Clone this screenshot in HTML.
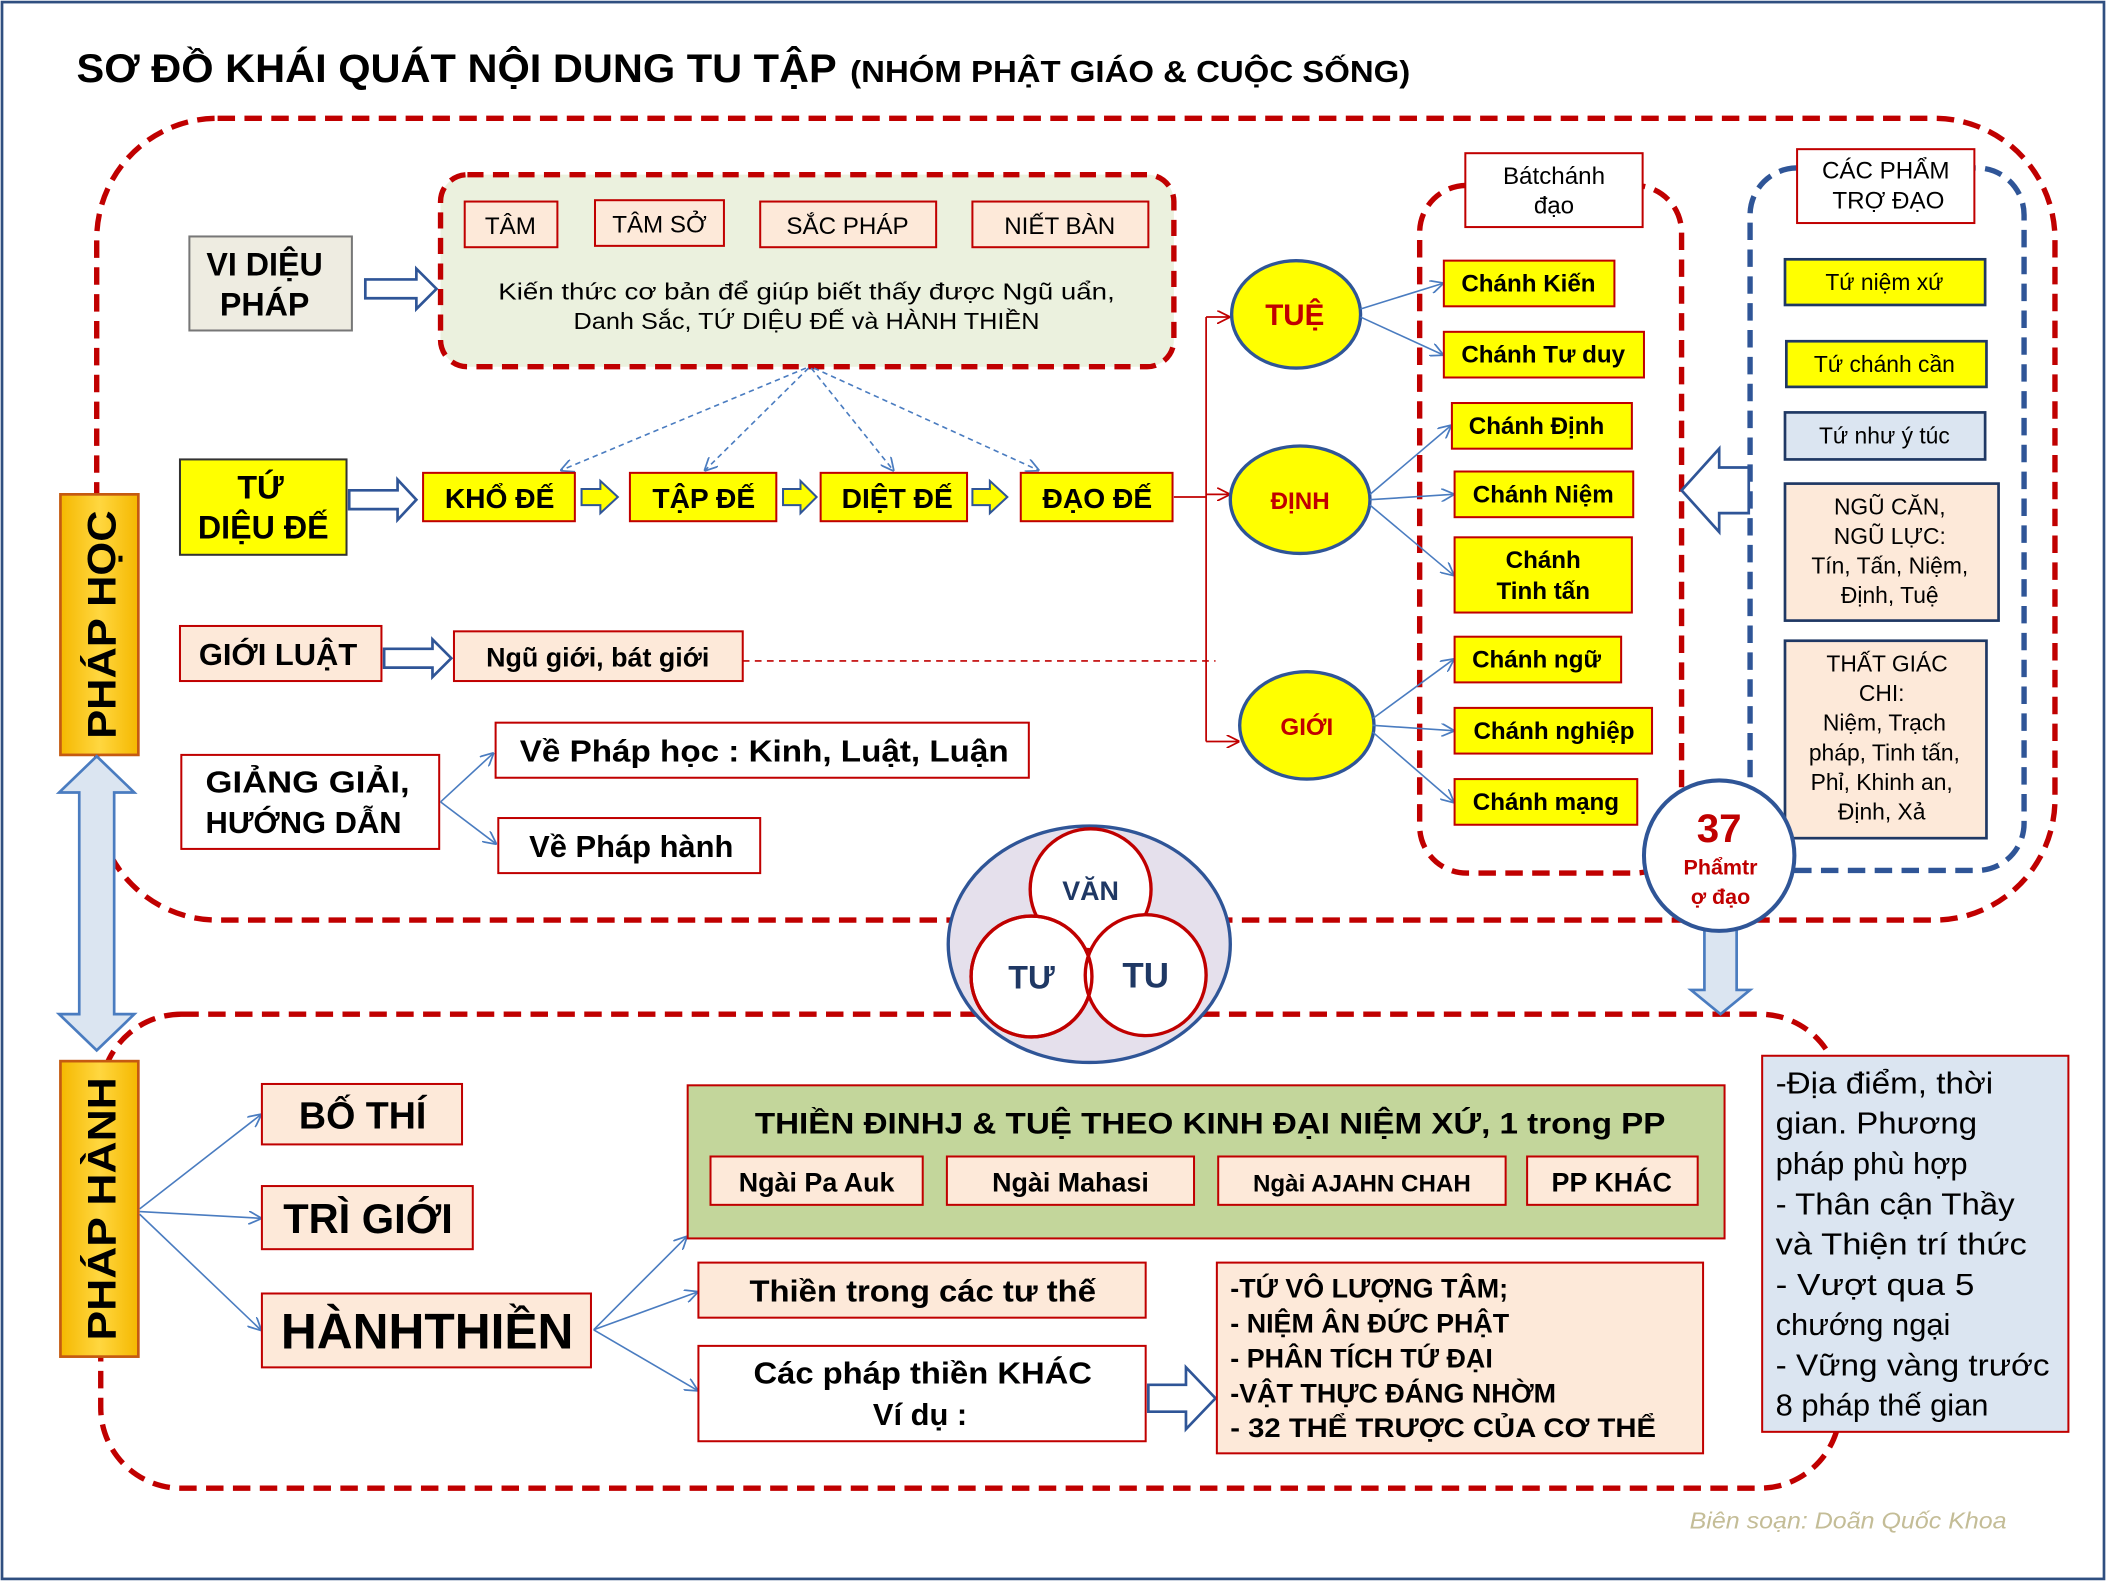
<!DOCTYPE html>
<html><head><meta charset="utf-8"><style>
html,body{margin:0;padding:0;background:#fff}
svg{display:block}
text{font-family:"Liberation Sans",Arial,sans-serif}
</style></head><body>
<svg width="2106" height="1581" viewBox="0 0 1568 1177" xmlns="http://www.w3.org/2000/svg">
<defs>
<marker id="ab" markerWidth="10" markerHeight="10" refX="9" refY="5" orient="auto" markerUnits="userSpaceOnUse"><path d="M0,0 L10,5 L0,10" fill="none" stroke="#4a7cc0" stroke-width="1.3"/></marker>
<marker id="ar" markerWidth="10" markerHeight="10" refX="9" refY="5" orient="auto" markerUnits="userSpaceOnUse"><path d="M0,0 L10,5 L0,10" fill="none" stroke="#c00000" stroke-width="1.3"/></marker>
<linearGradient id="yg" x1="0" y1="0" x2="1" y2="0"><stop offset="0" stop-color="#f5b800"/><stop offset="0.5" stop-color="#ffd740"/><stop offset="1" stop-color="#f5b800"/></linearGradient>
</defs>
<rect x="1.5" y="1.5" width="1565" height="1174" fill="#fff" stroke="#2f4f80" stroke-width="2"/>
<text x="57" y="61" font-size="30" font-weight="bold" textLength="566" lengthAdjust="spacingAndGlyphs">SƠ ĐỒ KHÁI QUÁT NỘI DUNG TU TẬP</text>
<text x="633" y="61" font-size="23" font-weight="bold" textLength="417" lengthAdjust="spacingAndGlyphs">(NHÓM PHẬT GIÁO &amp; CUỘC SỐNG)</text>

<rect x="72" y="88" width="1458" height="597" rx="90" fill="none" stroke="#c00000" stroke-width="4" stroke-dasharray="13,7"/>
<rect x="75" y="755" width="1295" height="353" rx="60" fill="none" stroke="#c00000" stroke-width="4" stroke-dasharray="13,7"/>

<rect x="45" y="368" width="58" height="194" fill="url(#yg)" stroke="#c55a11" stroke-width="2"/>
<text transform="translate(86,465) rotate(-90)" text-anchor="middle" font-size="30" font-weight="bold" textLength="170" lengthAdjust="spacingAndGlyphs">PHÁP HỌC</text>
<rect x="45" y="790" width="58" height="220" fill="url(#yg)" stroke="#c55a11" stroke-width="2"/>
<text transform="translate(86,900) rotate(-90)" text-anchor="middle" font-size="30" font-weight="bold" textLength="196" lengthAdjust="spacingAndGlyphs">PHÁP HÀNH</text>
<path d="M72,563 L100,590 L85,590 L85,755 L100,755 L72,782 L44,755 L59,755 L59,590 L44,590 Z" fill="#dbe5f1" stroke="#4a7cc0" stroke-width="2"/>

<rect x="141" y="176" width="121" height="70" fill="#eeece1" stroke="#777" stroke-width="1.5"/>
<text x="197" y="205" text-anchor="middle" font-size="24" font-weight="bold">VI DIỆU</text>
<text x="197" y="235" text-anchor="middle" font-size="24" font-weight="bold">PHÁP</text>
<path d="M272,208 L310,208 L310,200 L325,215 L310,230 L310,222 L272,222 Z" fill="#fff" stroke="#2f5597" stroke-width="2"/>
<rect x="328" y="130" width="546" height="143" rx="20" fill="#ebf1de" stroke="#c00000" stroke-width="4" stroke-dasharray="12,7"/>
<g fill="#fde9d9" stroke="#c00000" stroke-width="1.5">
<rect x="346" y="150" width="69" height="34"/><rect x="443" y="149" width="96" height="34"/><rect x="566" y="150" width="131" height="34"/><rect x="724" y="150" width="131" height="34"/></g>
<g font-size="18" text-anchor="middle"><text x="380" y="174">TÂM</text><text x="491" y="173">TÂM SỞ</text><text x="631" y="174">SẮC PHÁP</text><text x="789" y="174">NIẾT BÀN</text></g>
<text x="371" y="223" font-size="17" textLength="459" lengthAdjust="spacingAndGlyphs">Kiến thức cơ bản  để  giúp biết thấy được  Ngũ uẩn,</text>
<text x="427" y="245" font-size="17" textLength="347" lengthAdjust="spacingAndGlyphs">Danh Sắc, TỨ DIỆU ĐẾ và HÀNH THIỀN</text>

<g stroke="#4a7cc0" stroke-width="1.2" stroke-dasharray="4,3" fill="none">
<path d="M600,274 L418,350" marker-end="url(#ab)"/><path d="M602,274 L525,350" marker-end="url(#ab)"/><path d="M604,274 L665,350" marker-end="url(#ab)"/><path d="M606,274 L773,350" marker-end="url(#ab)"/></g>
<rect x="134" y="342" width="124" height="71" fill="#ffff00" stroke="#333" stroke-width="1.5"/>
<text x="194" y="371" text-anchor="middle" font-size="24" font-weight="bold">TỨ</text>
<text x="196" y="401" text-anchor="middle" font-size="24" font-weight="bold">DIỆU ĐẾ</text>
<path d="M260,365 L296,365 L296,357 L310,372 L296,387 L296,379 L260,379 Z" fill="#fff" stroke="#2f5597" stroke-width="2"/>
<g fill="#ffff00" stroke="#c00000" stroke-width="1.5">
<rect x="315" y="352" width="113" height="36"/><rect x="469" y="352" width="109" height="36"/><rect x="611" y="352" width="109" height="36"/><rect x="760" y="352" width="113" height="36"/></g>
<g fill="#ffff00" stroke="#2f5597" stroke-width="1.5">
<path d="M433,364 L447,364 L447,358 L460,370 L447,382 L447,376 L433,376 Z"/>
<path d="M583,364 L596,364 L596,358 L608,370 L596,382 L596,376 L583,376 Z"/>
<path d="M724,364 L737,364 L737,358 L750,370 L737,382 L737,376 L724,376 Z"/></g>
<g font-size="21" font-weight="bold" text-anchor="middle"><text x="372" y="378">KHỔ ĐẾ</text><text x="524" y="378">TẬP ĐẾ</text><text x="668" y="378">DIỆT ĐẾ</text><text x="817" y="378">ĐẠO ĐẾ</text></g>

<rect x="134" y="466" width="150" height="41" fill="#fde9d9" stroke="#c00000" stroke-width="1.5"/>
<text x="207" y="495" text-anchor="middle" font-size="23" font-weight="bold">GIỚI LUẬT</text>
<path d="M286,483 L322,483 L322,476 L336,490 L322,504 L322,497 L286,497 Z" fill="#fff" stroke="#2f5597" stroke-width="2"/>
<rect x="338" y="470" width="215" height="37" fill="#fde9d9" stroke="#c00000" stroke-width="1.5"/>
<text x="445" y="496" text-anchor="middle" font-size="20" font-weight="bold">Ngũ giới, bát giới</text>
<path d="M553,492 L905,492" stroke="#c00000" stroke-width="1.2" stroke-dasharray="5,4" fill="none"/>

<rect x="135" y="562" width="192" height="70" fill="#fff" stroke="#c00000" stroke-width="1.5"/>
<text x="229" y="590" text-anchor="middle" font-size="23" font-weight="bold" textLength="152" lengthAdjust="spacingAndGlyphs">GIẢNG  GIẢI,</text>
<text x="226" y="620" text-anchor="middle" font-size="23" font-weight="bold">HƯỚNG DẪN</text>
<g stroke="#4a7cc0" stroke-width="1.2" fill="none"><path d="M328,597 L367,561" marker-end="url(#ab)"/><path d="M328,597 L369,628" marker-end="url(#ab)"/></g>
<rect x="369" y="538" width="397" height="41" fill="#fff" stroke="#c00000" stroke-width="1.5"/>
<text x="569" y="567" text-anchor="middle" font-size="23" font-weight="bold" textLength="364" lengthAdjust="spacingAndGlyphs">Về Pháp học : Kinh, Luật, Luận</text>
<rect x="371" y="609" width="195" height="41" fill="#fff" stroke="#c00000" stroke-width="1.5"/>
<text x="470" y="638" text-anchor="middle" font-size="23" font-weight="bold">Về Pháp hành</text>

<g stroke="#c00000" stroke-width="1.3" fill="none">
<path d="M898,236 L898,552"/><path d="M874,370 L898,370"/>
<path d="M898,236 L915,236" marker-end="url(#ar)"/><path d="M898,368 L915,368" marker-end="url(#ar)"/><path d="M898,552 L922,552" marker-end="url(#ar)"/></g>

<g fill="#ffff00" stroke="#2f5597" stroke-width="2.5">
<ellipse cx="965" cy="234" rx="48" ry="40"/><ellipse cx="968" cy="372" rx="52" ry="40"/><ellipse cx="973" cy="540" rx="50" ry="40"/></g>
<text x="964" y="242" text-anchor="middle" font-size="22" font-weight="bold" fill="#c00000">TUỆ</text>
<text x="968" y="379" text-anchor="middle" font-size="18" font-weight="bold" fill="#c00000">ĐỊNH</text>
<text x="973" y="547" text-anchor="middle" font-size="18" font-weight="bold" fill="#c00000">GIỚI</text>

<rect x="1057" y="138" width="195" height="512" rx="35" fill="none" stroke="#c00000" stroke-width="4" stroke-dasharray="13,7"/>
<rect x="1091" y="114" width="132" height="55" fill="#fff" stroke="#c00000" stroke-width="1.5"/>
<text x="1157" y="137" text-anchor="middle" font-size="18">Bátchánh</text>
<text x="1157" y="159" text-anchor="middle" font-size="18">đạo</text>
<g stroke="#4a7cc0" stroke-width="1.2" fill="none">
<path d="M1013,230 L1074,211" marker-end="url(#ab)"/><path d="M1013,236 L1074,264" marker-end="url(#ab)"/>
<path d="M1020,368 L1080,317" marker-end="url(#ab)"/><path d="M1020,372 L1082,368" marker-end="url(#ab)"/><path d="M1020,376 L1082,428" marker-end="url(#ab)"/>
<path d="M1022,535 L1082,491" marker-end="url(#ab)"/><path d="M1022,540 L1082,544" marker-end="url(#ab)"/><path d="M1022,545 L1082,597" marker-end="url(#ab)"/></g>
<g fill="#ffff00" stroke="#c00000" stroke-width="1.5">
<rect x="1075" y="194" width="127" height="34"/><rect x="1075" y="247" width="149" height="34"/><rect x="1081" y="300" width="134" height="34"/><rect x="1083" y="351" width="133" height="34"/><rect x="1083" y="400" width="132" height="56"/><rect x="1083" y="474" width="124" height="34"/><rect x="1083" y="527" width="147" height="34"/><rect x="1083" y="580" width="136" height="34"/></g>
<g font-size="18" font-weight="bold" text-anchor="middle">
<text x="1138" y="217">Chánh Kiến</text><text x="1149" y="270">Chánh Tư duy</text><text x="1144" y="323">Chánh Định</text><text x="1149" y="374">Chánh Niệm</text>
<text x="1149" y="423">Chánh</text><text x="1149" y="446">Tinh tấn</text>
<text x="1144" y="497">Chánh ngữ</text><text x="1157" y="550">Chánh nghiệp</text><text x="1151" y="603">Chánh mạng</text></g>

<rect x="1303" y="125" width="204" height="523" rx="35" fill="none" stroke="#2f5597" stroke-width="4" stroke-dasharray="13,7"/>
<rect x="1338" y="111" width="132" height="55" fill="#fff" stroke="#c00000" stroke-width="1.5"/>
<text x="1404" y="133" text-anchor="middle" font-size="18">CÁC PHẨM</text>
<text x="1406" y="155" text-anchor="middle" font-size="18">TRỢ ĐẠO</text>
<g stroke="#1f3864" stroke-width="2">
<rect x="1329" y="193" width="149" height="34" fill="#ffff00"/><rect x="1330" y="254" width="149" height="34" fill="#ffff00"/><rect x="1329" y="307" width="149" height="35" fill="#dbe5f1"/><rect x="1329" y="360" width="159" height="102" fill="#fde9d9"/><rect x="1329" y="477" width="150" height="147" fill="#fde9d9"/></g>
<g font-size="17" text-anchor="middle">
<text x="1403" y="216">Tứ niệm xứ</text><text x="1403" y="277">Tứ chánh cần</text><text x="1403" y="330">Tứ như ý túc</text>
<text x="1407" y="383">NGŨ CĂN,</text><text x="1407" y="405">NGŨ LỰC:</text><text x="1407" y="427">Tín, Tấn, Niệm,</text><text x="1407" y="449">Định, Tuệ</text>
<text x="1405" y="500">THẤT GIÁC</text><text x="1401" y="522">CHI:</text><text x="1403" y="544">Niệm, Trạch</text><text x="1403" y="566">pháp, Tinh tấn,</text><text x="1401" y="588">Phỉ, Khinh an,</text><text x="1401" y="610">Định, Xả</text></g>
<path d="M1302,348 L1280,348 L1280,334 L1252,365 L1280,396 L1280,382 L1302,382 Z" fill="#fff" stroke="#2f5597" stroke-width="2"/>

<path d="M1269,692 L1269,737 L1259,737 L1281,755 L1303,737 L1293,737 L1293,692 Z" fill="#dbe5f1" stroke="#4a7cc0" stroke-width="2"/>
<circle cx="1280" cy="637" r="56" fill="#fff" stroke="#2f5597" stroke-width="3"/>
<text x="1280" y="627" text-anchor="middle" font-size="30" font-weight="bold" fill="#c00000">37</text>
<text x="1281" y="651" text-anchor="middle" font-size="16" font-weight="bold" fill="#c00000">Phẩmtr</text>
<text x="1281" y="673" text-anchor="middle" font-size="16" font-weight="bold" fill="#c00000">ợ đạo</text>

<ellipse cx="811" cy="703" rx="105" ry="88" fill="#e5e0ec" stroke="#2f5597" stroke-width="2.5"/>
<g fill="#fff" stroke="#c00000" stroke-width="2.5">
<circle cx="812" cy="662" r="45"/><circle cx="768" cy="727" r="45"/><circle cx="853" cy="726" r="45"/></g>
<circle cx="768" cy="727" r="45" fill="none" stroke="#c00000" stroke-width="2.5"/>
<text x="812" y="670" text-anchor="middle" font-size="20" font-weight="bold" fill="#1f3864">VĂN</text>
<text x="768" y="736" text-anchor="middle" font-size="24" font-weight="bold" fill="#1f3864">TƯ</text>
<text x="853" y="735" text-anchor="middle" font-size="26" font-weight="bold" fill="#1f3864">TU</text>

<g stroke="#4a7cc0" stroke-width="1.2" fill="none">
<path d="M104,900 L194,830" marker-end="url(#ab)"/><path d="M104,902 L194,907" marker-end="url(#ab)"/><path d="M104,904 L194,990" marker-end="url(#ab)"/>
<path d="M442,990 L511,921" marker-end="url(#ab)"/><path d="M442,990 L519,962" marker-end="url(#ab)"/><path d="M442,990 L519,1035" marker-end="url(#ab)"/></g>
<g fill="#fde9d9" stroke="#c00000" stroke-width="1.5">
<rect x="195" y="807" width="149" height="45"/><rect x="195" y="883" width="157" height="47"/><rect x="195" y="963" width="245" height="55"/></g>
<text x="270" y="840" text-anchor="middle" font-size="28" font-weight="bold">BỐ THÍ</text>
<text x="274" y="918" text-anchor="middle" font-size="31" font-weight="bold">TRÌ GIỚI</text>
<text x="318" y="1004" text-anchor="middle" font-size="37" font-weight="bold">HÀNHTHIỀN</text>

<rect x="512" y="808" width="772" height="114" fill="#c3d69b" stroke="#c00000" stroke-width="1.5"/>
<text x="901" y="844" text-anchor="middle" font-size="22" font-weight="bold" textLength="678" lengthAdjust="spacingAndGlyphs">THIỀN ĐINHJ &amp; TUỆ THEO KINH ĐẠI NIỆM XỨ, 1 trong PP</text>
<g fill="#fde9d9" stroke="#c00000" stroke-width="1.5">
<rect x="529" y="861" width="158" height="36"/><rect x="705" y="861" width="184" height="36"/><rect x="907" y="861" width="214" height="36"/><rect x="1137" y="861" width="127" height="36"/></g>
<g font-weight="bold" text-anchor="middle">
<text x="608" y="887" font-size="20">Ngài  Pa Auk</text><text x="797" y="887" font-size="20">Ngài Mahasi</text><text x="1014" y="887" font-size="18">Ngài AJAHN CHAH</text><text x="1200" y="887" font-size="20">PP KHÁC</text></g>

<rect x="520" y="940" width="333" height="41" fill="#fde9d9" stroke="#c00000" stroke-width="1.5"/>
<text x="687" y="969" text-anchor="middle" font-size="23" font-weight="bold" textLength="258" lengthAdjust="spacingAndGlyphs">Thiền trong các tư thế</text>
<rect x="520" y="1002" width="333" height="71" fill="#fff" stroke="#c00000" stroke-width="1.5"/>
<text x="687" y="1030" text-anchor="middle" font-size="23" font-weight="bold" textLength="252" lengthAdjust="spacingAndGlyphs">Các pháp thiền KHÁC</text>
<text x="685" y="1061" text-anchor="middle" font-size="23" font-weight="bold">Ví dụ :</text>
<path d="M855,1031 L883,1031 L883,1018 L905,1041 L883,1064 L883,1051 L855,1051 Z" fill="#fff" stroke="#2f5597" stroke-width="2"/>
<rect x="906" y="940" width="362" height="142" fill="#fde9d9" stroke="#c00000" stroke-width="1.5"/>
<g font-size="20" font-weight="bold">
<text x="916" y="966">-TỨ VÔ LƯỢNG TÂM;</text><text x="916" y="992">- NIỆM ÂN ĐỨC PHẬT</text><text x="916" y="1018">- PHÂN TÍCH TỨ ĐẠI</text><text x="916" y="1044">-VẬT THỰC ĐÁNG NHỜM</text><text x="916" y="1070" textLength="317" lengthAdjust="spacingAndGlyphs">- 32 THỂ TRƯỢC CỦA CƠ THỂ</text></g>

<rect x="1312" y="786" width="228" height="280" fill="#dbe5f1" stroke="#c00000" stroke-width="1.5"/>
<g font-size="23">
<text x="1322" y="814" textLength="162" lengthAdjust="spacingAndGlyphs">-Địa điểm,  thời</text><text x="1322" y="844" textLength="150" lengthAdjust="spacingAndGlyphs">gian.  Phương</text><text x="1322" y="874">pháp phù hợp</text><text x="1322" y="904" textLength="178" lengthAdjust="spacingAndGlyphs">- Thân cận Thầy</text><text x="1322" y="934" textLength="187" lengthAdjust="spacingAndGlyphs">và  Thiện trí thức</text><text x="1322" y="964" textLength="148" lengthAdjust="spacingAndGlyphs">-  Vượt qua 5</text><text x="1322" y="994">chướng ngại</text><text x="1322" y="1024" textLength="204" lengthAdjust="spacingAndGlyphs">- Vững vàng trước</text><text x="1322" y="1054">8 pháp thế gian</text></g>

<text x="1258" y="1138" font-size="17" font-style="italic" fill="#c4bd97" textLength="236" lengthAdjust="spacingAndGlyphs">Biên soạn: Doãn Quốc Khoa</text>
</svg>
</body></html>
